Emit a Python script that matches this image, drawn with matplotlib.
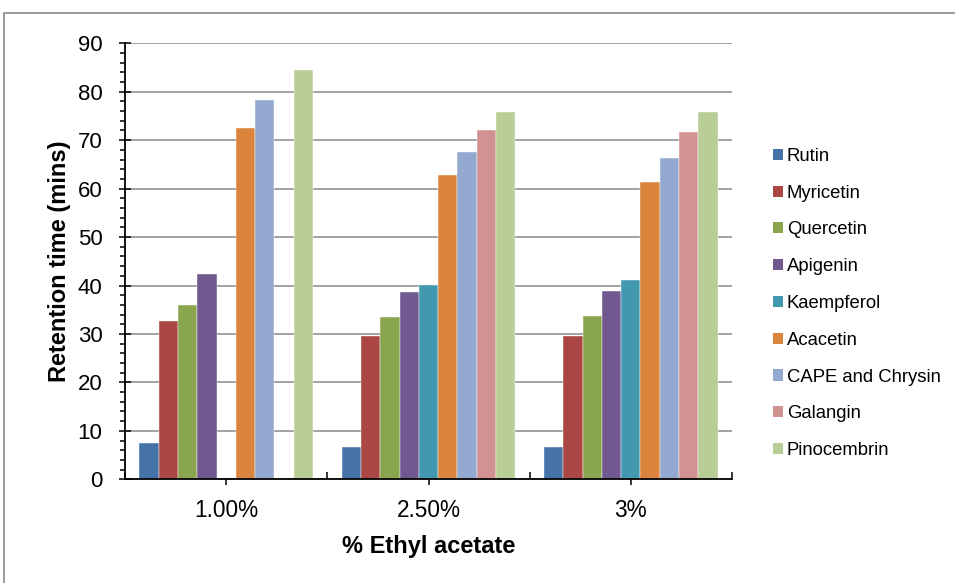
import numpy as np
import matplotlib
matplotlib.use("Agg")
import matplotlib.pyplot as plt
from matplotlib.patches import Patch, Rectangle

plt.rcParams['font.family'] = ['Liberation Sans', 'DejaVu Sans']

# Mobile-phase composition groups
categories = ["1.00%", "2.50%", "3%"]

# Retention times (mins) per compound, one value per group
compounds = ["Rutin", "Myricetin", "Quercetin", "Apigenin", "Kaempferol",
             "Acacetin", "CAPE and Chrysin", "Galangin", "Pinocembrin"]
rutin = [7.4, 6.7, 6.7]
myricetin = [32.7, 29.6, 29.5]
quercetin = [35.9, 33.4, 33.8]
apigenin = [42.4, 38.7, 38.9]
kaempferol = [np.nan, 40.2, 41.1]
acacetin = [72.5, 62.8, 61.4]
cape_chrysin = [78.3, 67.6, 66.3]
galangin = [np.nan, 72.1, 71.7]
pinocembrin = [84.5, 75.8, 75.8]

series = [rutin, myricetin, quercetin, apigenin, kaempferol,
          acacetin, cape_chrysin, galangin, pinocembrin]
colors = ["#4572A7", "#AA4643", "#89A54E", "#71588F", "#4198AF",
          "#DB843D", "#93A9CF", "#D19392", "#B9CD96"]

W, H = 955, 583
fig = plt.figure(figsize=(W / 100, H / 100), dpi=100)
ax = fig.add_axes([125 / W, 1 - 479.3 / H, (732 - 125) / W, (479.3 - 43.3) / H])

x = np.arange(len(categories))
n = len(series)
w = 1.0 / (n + 1.5)
for j, (vals, c, name) in enumerate(zip(series, colors, compounds)):
    ax.bar(x + (j - (n - 1) / 2) * w, vals, width=w, color=c,
           edgecolor='white', linewidth=0.3, label=name, zorder=2)

ax.set_xlim(-0.5, len(categories) - 0.5)
ax.set_ylim(0, 90)

# y axis: major every 10 with gridlines, minor every 2
ax.set_yticks(np.arange(0, 91, 10))
ax.set_yticks(np.arange(0, 91, 2), minor=True)
ax.tick_params(axis='y', which='major', direction='inout', length=8.6,
               width=1.1, labelsize=16, pad=12, colors='black')
ax.tick_params(axis='y', which='minor', direction='out', length=3.6,
               width=1.1)
ax.yaxis.grid(True, which='major', color='#878787', linewidth=1.1, zorder=0)
ax.set_axisbelow(True)

# x axis: ticks between groups, labels at group centers
ax.set_xticks(np.arange(-0.5, len(categories), 1.0))
ax.set_xticklabels([])
ax.set_xticks(x, labels=categories, minor=True)
ax.tick_params(axis='x', which='major', direction='in', length=5, width=1.1)
ax.tick_params(axis='x', which='minor', direction='out', length=4, width=1.1,
               labelsize=16.3, pad=10)

for s in ('top', 'right'):
    ax.spines[s].set_visible(False)
for s in ('left', 'bottom'):
    ax.spines[s].set_linewidth(1.3)
    ax.spines[s].set_color('black')
    ax.spines[s].set_zorder(3)

ax.set_ylabel("Retention time (mins)", fontsize=17, fontweight='bold', labelpad=5)
ax.set_xlabel("% Ethyl acetate", fontsize=17, fontweight='bold', labelpad=9.5)

handles = [Patch(facecolor=c, edgecolor='none') for c in colors]
ax.legend(handles, compounds, loc='center left',
          bbox_to_anchor=(773 / W, 1 - 303.5 / H), bbox_transform=fig.transFigure,
          frameon=False, fontsize=13.3, handlelength=0.55, handleheight=0.55,
          handletextpad=0.2, labelspacing=1.07, borderpad=0, borderaxespad=0)

# chart-area frame
fig.add_artist(Rectangle((4 / W, -0.1), 1.2, 1 - 13 / H + 0.1,
                         transform=fig.transFigure, fill=False,
                         edgecolor='#8a8a8a', linewidth=1.2))

fig.savefig("out.png", dpi=100)
